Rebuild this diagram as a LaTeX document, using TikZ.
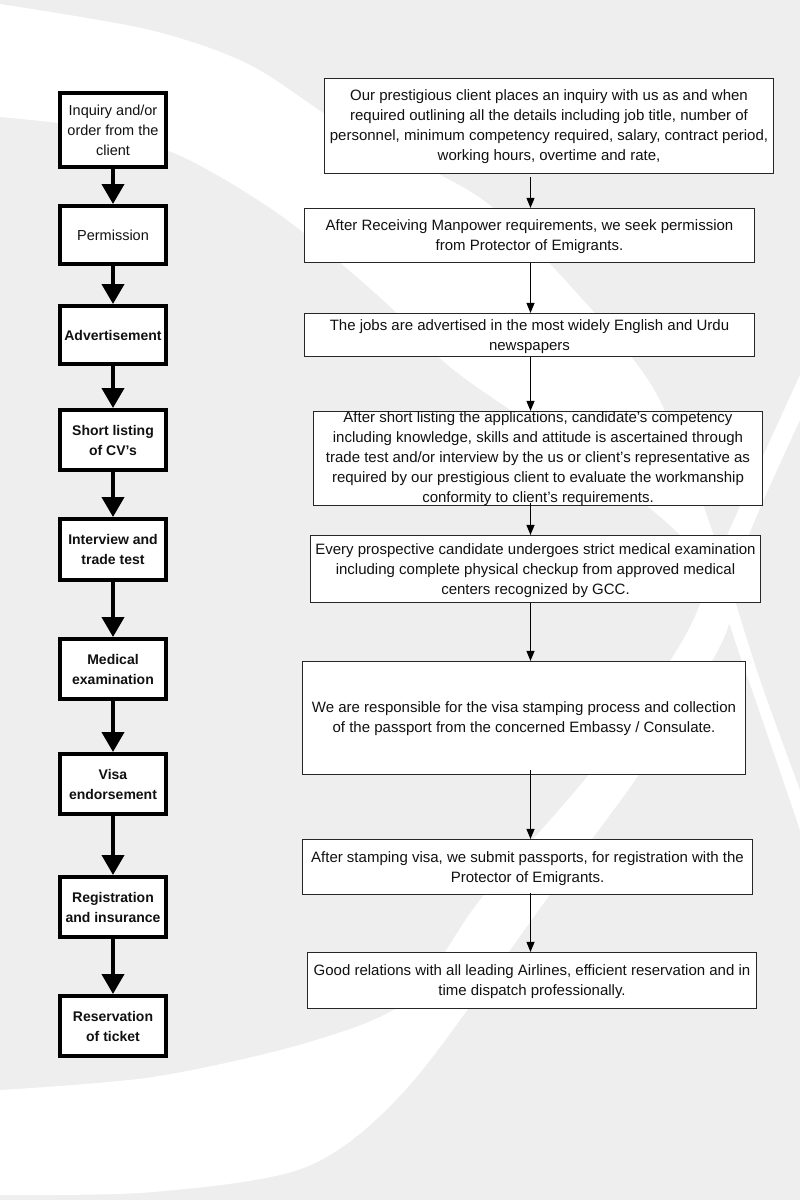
\documentclass[tikz,border=0pt]{standalone}
\usepackage{fontspec}
\setmainfont{Liberation Sans}
\usetikzlibrary{arrows.meta}
\definecolor{bggray}{HTML}{EEEEEE}
\definecolor{ink}{HTML}{111111}
\begin{document}
\begin{tikzpicture}[x=1pt,y=-1pt,
  lbox/.style={draw=black, line width=4pt, fill=white, minimum width=106pt,
    inner sep=0pt, align=center, text=ink,
    font=\fontsize{14}{20}\selectfont\bfseries},
  lboxn/.style={lbox, font=\fontsize{14.5}{20}\selectfont},
  rbox/.style={draw=black!85, line width=1.2pt, fill=white, inner sep=0pt},
  rtext/.style={align=center, text=ink, inner sep=0pt,
    font=\fontsize{15}{20}\selectfont},
  bigarrow/.style={line width=4pt, -{Triangle[width=22pt,length=20pt]}},
  thinarrow/.style={line width=1pt, -{Triangle[width=8pt,length=10pt]}}
]
% ---------- background ----------
\useasboundingbox (0,0) rectangle (800,1200);
\fill[bggray] (0,0) rectangle (800,1200);
% top swoosh
\fill[white] plot[smooth] coordinates {(0,4) (150,30) (250,65) (350,130) (483,200) (583,300) (650,383) (690,470) (722,560) (760,680) (800,790)}
  -- (800,830)
  -- plot[smooth] coordinates {(800,830) (745,670) (705,565) (640,500) (540,430) (450,367) (383,300) (283,217) (183,157) (90,128) (0,117)}
  -- cycle;
% bottom swoosh
\fill[white] plot[smooth] coordinates {(0,1090) (153,1077) (306,1043) (408,1000) (480,900) (590,773) (683,640) (725,540) (800,375)}
  -- (800,420)
  -- plot[smooth] coordinates {(800,420) (745,545) (723,640) (640,773) (546,900) (408,1087) (306,1167) (153,1192) (0,1195)}
  -- cycle;

% ---------- left column ----------
\node[lboxn, minimum height=74pt] (l1) at (113,130) {Inquiry and/or\\order from the\\client};
\node[lboxn, minimum height=58pt] (l2) at (113,235) {Permission};
\node[lbox, minimum height=58pt] (l3) at (113,335) {Advertisement};
\node[lbox, minimum height=60pt] (l4) at (113,440) {Short listing\\of CV’s};
\node[lbox, minimum height=61pt] (l5) at (113,549.5) {Interview and\\trade test};
\node[lbox, minimum height=60pt] (l6) at (113,669) {Medical\\examination};
\node[lbox, minimum height=60pt] (l7) at (113,784) {Visa\\endorsement};
\node[lbox, minimum height=60pt] (l8) at (113,907) {Registration\\and insurance};
\node[lbox, minimum height=60pt] (l9) at (113,1026) {Reservation\\of ticket};

\foreach \a/\b in {l1/l2,l2/l3,l3/l4,l4/l5,l5/l6,l6/l7,l7/l8,l8/l9}
  \draw[bigarrow] (\a.south) -- (\b.north);

% ---------- right column ----------
\node[rbox, minimum width=449pt, minimum height=95pt] (r1) at (549,126) {};
\node[rtext] (t1) at (549,127) {Our prestigious client places an inquiry with us as and when\\required outlining all the details including job title, number of\\personnel, minimum competency required, salary, contract period,\\working hours, overtime and rate,};

\node[rbox, minimum width=450pt, minimum height=54pt] (r2) at (529.5,235.5) {};
\node[rtext] (t2) at (529.5,237) {After Receiving Manpower requirements, we seek permission\\from Protector of Emigrants.};

\node[rbox, minimum width=450pt, minimum height=43pt] (r3) at (529.5,335) {};
\node[rtext] (t3) at (529.5,336.5) {The jobs are advertised in the most widely English and Urdu\\newspapers};

\node[rbox, minimum width=449pt, minimum height=94pt] (r4) at (538,458.5) {};
\node[rtext] (t4) at (538,459) {After short listing the applications, candidate’s competency\\including knowledge, skills and attitude is ascertained through\\trade test and/or interview by the us or client’s representative as\\required by our prestigious client to evaluate the workmanship\\conformity to client’s requirements.};

\node[rbox, minimum width=450pt, minimum height=67pt] (r5) at (535.5,569) {};
\node[rtext] (t5) at (535.5,571) {Every prospective candidate undergoes strict medical examination\\including complete physical checkup from approved medical\\centers recognized by GCC.};

\node[rbox, minimum width=443pt, minimum height=113pt] (r6) at (524,718) {};
\node[rtext] (t6) at (524,719) {We are responsible for the visa stamping process and collection\\of the passport from the concerned Embassy / Consulate.};

\node[rbox, minimum width=450pt, minimum height=55pt] (r7) at (527.5,867) {};
\node[rtext] (t7) at (527.5,869) {After stamping visa, we submit passports, for registration with the\\Protector of Emigrants.};

\node[rbox, minimum width=449pt, minimum height=56pt] (r8) at (532,980.5) {};
\node[rtext] (t8) at (532,982) {Good relations with all leading Airlines, efficient reservation and in\\time dispatch professionally.};

\coordinate (ax) at (530.5,0);
\draw[thinarrow] ([yshift=-3pt]r1.south -| ax) -- (r2.north -| ax);
\draw[thinarrow] (r2.south -| ax) -- (r3.north -| ax);
\draw[thinarrow] (r3.south -| ax) -- (r4.north -| ax);
\draw[thinarrow] ([yshift=3pt]r4.south -| ax) -- (r5.north -| ax);
\draw[thinarrow] (r5.south -| ax) -- (r6.north -| ax);
\draw[thinarrow] ([yshift=5pt]r6.south -| ax) -- (r7.north -| ax);
\draw[thinarrow] ([yshift=2pt]r7.south -| ax) -- (r8.north -| ax);
\end{tikzpicture}
\end{document}
